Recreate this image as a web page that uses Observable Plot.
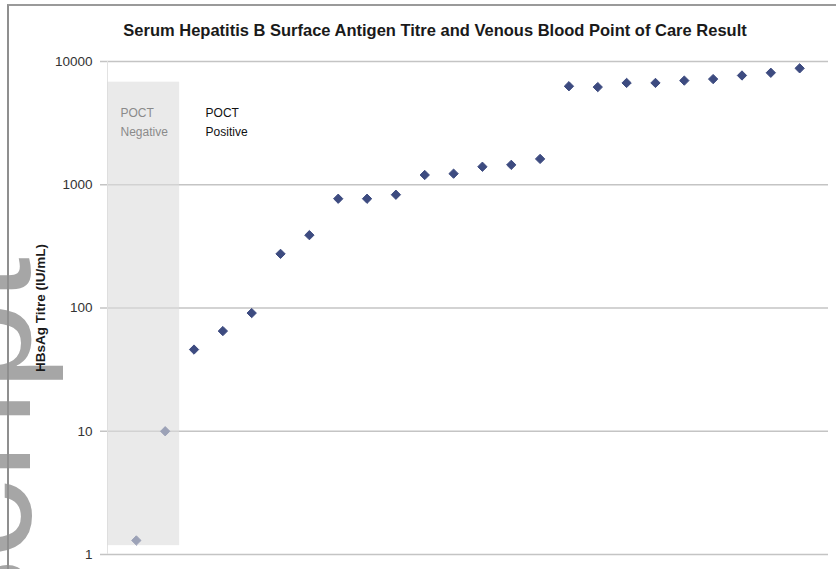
<!DOCTYPE html>
<html>
<head>
<meta charset="utf-8">
<script src="https://cdn.jsdelivr.net/npm/d3@7"></script>
<script src="https://cdn.jsdelivr.net/npm/@observablehq/plot@0.6"></script>
<style>
  html, body { margin: 0; padding: 0; background: #fff; }
  #wrap { position: relative; width: 836px; height: 569px; overflow: hidden; font-family: "Liberation Sans", Arial, sans-serif; background: #fff; }
  #wm { position: absolute; left: 0; top: 0; pointer-events: none; }
  #chart { position: absolute; left: 0; top: 0; }
  #frame { position: absolute; left: 7px; top: 4px; width: 1000px; height: 1000px; border-left: 2px solid #8f8f8f; border-top: 2px solid #9a9a9a; pointer-events: none; }
</style>
</head>
<body>
<div id="wrap">
  <svg id="wm" width="836" height="569"></svg>
  <div id="chart"></div>
  <div id="frame"></div>
</div>
<script>
// ---- data ----
const sampleIndex = [1,2,3,4,5,6,7,8,9,10,11,12,13,14,15,16,17,18,19,20,21,22,23,24];
const titre = [1.3, 10, 46, 65, 91, 275, 390, 770, 770, 830, 1200, 1230, 1400, 1450, 1620,
               6300, 6200, 6700, 6700, 7000, 7200, 7700, 8100, 8800];
const yTicks = [1, 10, 100, 1000, 10000];
const negativeBand = [{x1: 0, x2: 2.5, y1: 1.18, y2: 6800}];
const bandLabels = [
  {x: 0.45, y: 4600, text: "POCT\nNegative", color: "#8a8a8a", weight: "normal"},
  {x: 3.4, y: 4600, text: "POCT\nPositive", color: "#111", weight: "normal"}
];
const titleText = "Serum Hepatitis B Surface Antigen Titre and Venous Blood Point of Care Result";
const yLabel = "HBsAg Titre (IU/mL)";

const data = sampleIndex.map((i, k) => ({i, v: titre[k]}));

const chart = Plot.plot({
  width: 836,
  height: 569,
  marginLeft: 107,
  marginRight: 8,
  marginTop: 61,
  marginBottom: 15,
  style: {fontFamily: "Liberation Sans, Arial, sans-serif", background: "transparent"},
  x: {domain: [0, 25], axis: null},
  y: {type: "log", domain: [1, 10000], axis: null},
  marks: [
    Plot.ruleY(yTicks, {stroke: "#c4c4c4", strokeWidth: 1.5, insetLeft: -7}),
    Plot.ruleX([0], {stroke: "#e2e2e2", strokeWidth: 1}),
    Plot.text(yTicks, {x: 0, y: d => d, text: d => String(d), textAnchor: "end", dx: -15, fontSize: 13.5, fill: "#333"}),
    Plot.dot(data, {x: "i", y: "v", symbol: "diamond2", r: 4.2, fill: "#3d4b80", stroke: "#3d4b80", strokeWidth: 1}),
    Plot.rect(negativeBand, {x1: "x1", x2: "x2", y1: "y1", y2: "y2", fill: "#dcdcdc", fillOpacity: 0.6}),
    Plot.text(bandLabels, {x: "x", y: "y", text: "text", fill: "color", fontWeight: "weight", textAnchor: "start", lineAnchor: "top", lineHeight: 1.6, fontSize: 12}),
    Plot.text([titleText], {frameAnchor: "top", dx: -33, dy: -31, fontSize: 16.5, fontWeight: "bold", fill: "#1a1a1a", lineAnchor: "middle"}),
    Plot.text([yLabel], {frameAnchor: "left", dx: -67, rotate: -90, textAnchor: "middle", fontSize: 13.5, fontWeight: "bold", fill: "#1a1a1a"})
  ]
});
document.getElementById("chart").appendChild(chart);

// watermark (edge of a rotated "Author Manuscript" stamp), drawn behind the chart
const wm = d3.select("#wm");
wm.append("text")
  .attr("transform", "translate(30,257) rotate(-90)")
  .attr("text-anchor", "end")
  .attr("font-family", "Liberation Sans, Arial, sans-serif")
  .attr("font-size", 160)
  .attr("fill", "#a6a6a6")
  .text("Manuscript");
</script>
</body>
</html>
